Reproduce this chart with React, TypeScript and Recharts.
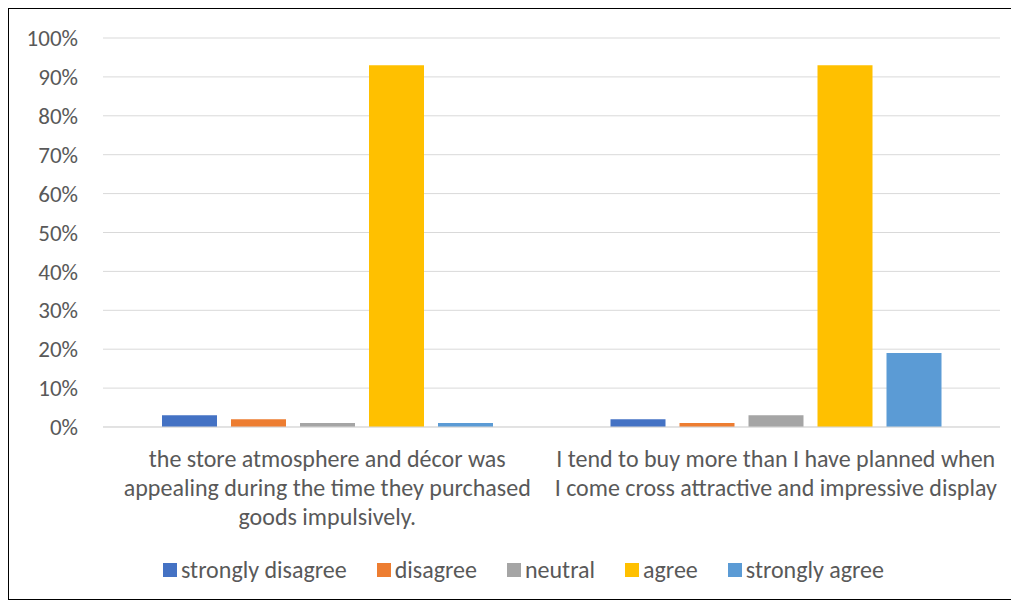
import { Bar, BarChart, CartesianGrid, Legend, XAxis, YAxis } from "recharts"

const categories = [
  "the store atmosphere and décor was\nappealing during the time they purchased\ngoods impulsively.",
  "I tend to buy more than I have planned when\nI come cross attractive and impressive display",
]

const stronglyDisagree = [3, 2]
const disagree = [2, 1]
const neutral = [1, 3]
const agree = [93, 93]
const stronglyAgree = [1, 19]

const yTicks = [0, 10, 20, 30, 40, 50, 60, 70, 80, 90, 100]

const series = [
  { key: "strongly disagree", values: stronglyDisagree, color: "#4472C4" },
  { key: "disagree", values: disagree, color: "#ED7D31" },
  { key: "neutral", values: neutral, color: "#A5A5A5" },
  { key: "agree", values: agree, color: "#FFC000" },
  { key: "strongly agree", values: stronglyAgree, color: "#5B9BD5" },
]

const data = categories.map((name, i) => {
  const row: Record<string, string | number> = { name }
  series.forEach((s) => {
    row[s.key] = s.values[i]
  })
  return row
})

const font = "Carlito, 'Liberation Sans Narrow', 'Open Sans', sans-serif"

function CategoryTick(props: any) {
  const { x, y, payload } = props
  const lines = String(payload.value).split("\n")
  return (
    <text x={x} y={y} textAnchor="middle" fill="#595959" fontSize={24} fontFamily={font}>
      {lines.map((line, i) => (
        <tspan key={i} x={x} dy={i === 0 ? 32 : 29}>
          {line}
        </tspan>
      ))}
    </text>
  )
}

function LegendContent() {
  return (
    <div
      style={{
        display: "flex",
        justifyContent: "center",
        paddingTop: 8,
        paddingLeft: 38,
        fontFamily: font,
        fontSize: 24,
        color: "#595959",
        lineHeight: "24px",
      }}
    >
      {series.map((s) => (
        <span key={s.key} style={{ display: "inline-flex", alignItems: "center", margin: "0 15px" }}>
          <span style={{ width: 14, height: 14, background: s.color, marginRight: 4, display: "inline-block" }} />
          {s.key}
        </span>
      ))}
    </div>
  )
}

export default function App() {
  return (
    <div style={{ width: 1002, height: 590, border: "1px solid #000", background: "#fff" }}>
      <BarChart
        width={1002}
        height={590}
        data={data}
        margin={{ top: 29, right: 11, left: 0, bottom: 9 }}
        barSize={55}
        barGap={14}
      >
        <CartesianGrid vertical={false} stroke="#d9d9d9" />
        <XAxis
          dataKey="name"
          height={123}
          tick={<CategoryTick />}
          tickLine={false}
          axisLine={{ stroke: "#d9d9d9" }}
          interval={0}
        />
        <YAxis
          width={94}
          domain={[0, 100]}
          ticks={yTicks}
          tickFormatter={(v) => `${v}%`}
          axisLine={false}
          tickLine={false}
          tick={{ fill: "#595959", fontSize: 23, fontFamily: font }}
          tickMargin={19}
        />
        <Legend height={40} content={<LegendContent />} />
        {series.map((s) => (
          <Bar key={s.key} dataKey={s.key} fill={s.color} isAnimationActive={false} />
        ))}
      </BarChart>
    </div>
  )
}
